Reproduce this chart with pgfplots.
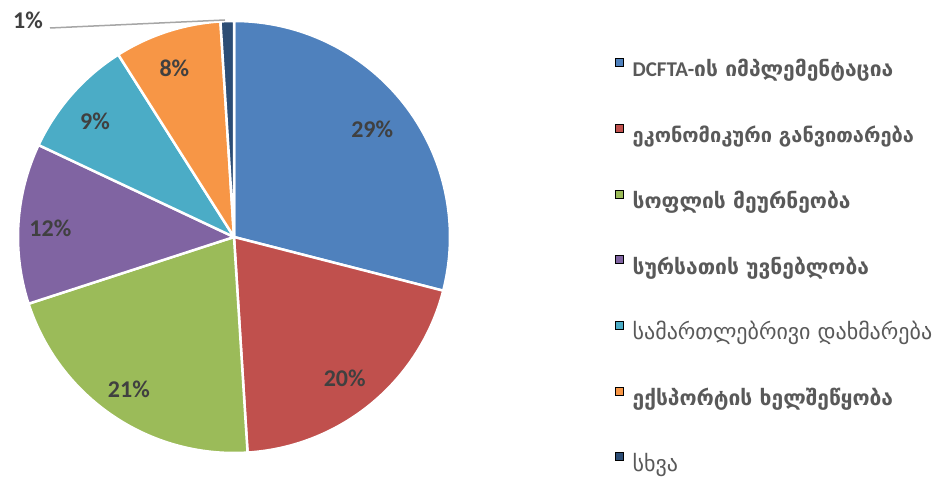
\documentclass[border=0pt]{standalone}
\usepackage{fontspec}
\setmainfont{Carlito}
\newfontfamily\geo{DejaVu Sans}
\usepackage{pgfplots}
\usepackage{pgfplotstable}
\pgfplotsset{compat=1.18}

\definecolor{pie0}{HTML}{4F81BD}
\definecolor{pie1}{HTML}{C0504D}
\definecolor{pie2}{HTML}{9BBB59}
\definecolor{pie3}{HTML}{8064A2}
\definecolor{pie4}{HTML}{4BACC6}
\definecolor{pie5}{HTML}{F79646}
\definecolor{pie6}{HTML}{2C4D75}
\definecolor{pctgray}{HTML}{404040}
\definecolor{legtext}{HTML}{595959}
\definecolor{leader}{HTML}{A6A6A6}

\tikzset{pctlabel/.style={font=\bfseries\fontsize{24}{26}\selectfont, text=pctgray, inner sep=0pt}}
\newcommand\bsz{\bfseries\fontsize{21}{25}\selectfont}

% shares in percent, clockwise from 12 o'clock
\pgfplotstableread{
share
29
20
21
12
9
8
1
}\piedata

\begin{document}
\begin{tikzpicture}
\useasboundingbox (0,0) rectangle (939pt,479pt);
\begin{axis}[
  at={(0pt,0pt)}, anchor=south west,
  x=1pt, y=1pt, xmin=0, xmax=939, ymin=0, ymax=479,
  hide axis, clip=false,
  legend cell align=left,
  legend image code/.code={\fill[#1] (0pt,5pt) rectangle (8pt,13pt); \path (17pt,5pt);},
  legend style={draw=none, fill=none, at={(axis cs:615,421)}, anchor=north west,
    inner sep=0pt, row sep=42pt,
    nodes={text height=16pt, text depth=5pt, inner sep=0pt, text=legtext,
      font=\geo\fontsize{22}{25}\selectfont}},
]
\def\cum{90}
\pgfplotsforeachungrouped \i in {0,...,6}{%
  \pgfplotstablegetelem{\i}{share}\of\piedata
  \let\val\pgfplotsretval
  \pgfmathsetmacro\endang{\cum-3.6*\val}%
  \pgfmathsetmacro\midang{(\cum+\endang)/2}%
  \pgfmathsetmacro\lx{230+180*cos(\midang)}%
  \pgfmathsetmacro\ly{239+180*sin(\midang)}%
  \edef\temp{\noexpand\fill[fill=pie\i, draw=white, line width=2.5pt, line join=round]
    (axis cs:234,242) -- ++(\cum:216pt) arc[start angle=\cum, end angle=\endang, radius=216pt] -- cycle;}%
  \temp
  \ifnum\i<6
    \edef\temp{\noexpand\node[pctlabel] at (axis cs:\lx,\ly) {\val\noexpand\%};}%
    \temp
  \fi
  \let\cum\endang
}
\draw[leader, line width=1.5pt] (axis cs:50,451) -- (axis cs:225,459);
\node[pctlabel] at (axis cs:28,459) {1\%};

\addlegendimage{fill=pie0}\addlegendentry{\bsz{\rmfamily DCFTA-}ის იმპლემენტაცია}
\addlegendimage{fill=pie1}\addlegendentry{\bfseries\fontsize{20}{25}\selectfont ეკონომიკური განვითარება}
\addlegendimage{fill=pie2}\addlegendentry{\bsz სოფლის მეურნეობა}
\addlegendimage{fill=pie3}\addlegendentry{\bsz სურსათის უვნებლობა}
\addlegendimage{fill=pie4}\addlegendentry{სამართლებრივი დახმარება}
\addlegendimage{fill=pie5}\addlegendentry{\bsz ექსპორტის ხელშეწყობა}
\addlegendimage{fill=pie6}\addlegendentry{სხვა}
\end{axis}
\end{tikzpicture}
\end{document}
